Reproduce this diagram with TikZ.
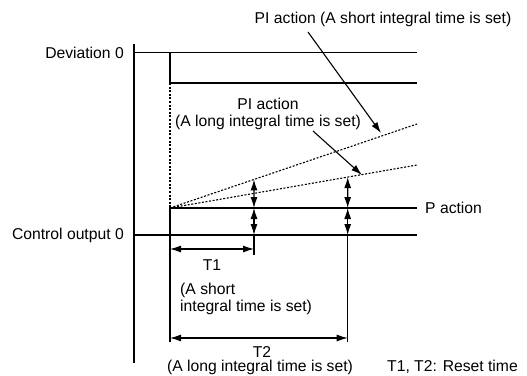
\documentclass[tikz,border=0pt]{standalone}
\usepackage{fontspec}
\setmainfont{Liberation Sans}
\usetikzlibrary{arrows.meta,calc}

\begin{document}
\begin{tikzpicture}[x=1pt,y=-1pt,
		%Option for nice arrows%
		>={Latex[length=11pt,width=7pt]},%
		thin line/.style={line width=1.1pt},%
		thick line/.style={line width=2.6pt},%
		dot line/.style={line width=1.1pt,dash pattern=on 2pt off 1.6pt},%
		lbl/.style={inner sep=0pt,font=\fontsize{15.7}{17}\selectfont}%
		]
		%% some definitions
		\def\xs{170}    % step time
		\def\xe{417}    % right end of lines
		\def\xa{254}    % end of T1
		\def\xb{347.7}  % end of T2
		\def\yd{52.5}   % deviation 0
		\def\yo{235}    % control output 0
		\def\yp{208}    % P action level
		%
		\useasboundingbox (0,0) rectangle (527,375);
		%
		\coordinate (ax top) at (134,44);
		\coordinate (ax bot) at (134,363);
		\coordinate (dev l) at (134,\yd);
		\coordinate (dev r) at (\xe,\yd);
		\coordinate (co l) at (134,\yo);
		\coordinate (co r) at (\xe,\yo);
		\coordinate (step top) at (\xs,\yd);
		\coordinate (step bot) at (\xs,83);
		\coordinate (step r) at (\xe,83);
		\coordinate (P0) at (\xs,\yp);
		\coordinate (P1) at (\xe,\yp);
		\coordinate (P base) at (\xs,\yo);
		\coordinate (short end) at (\xe,124);
		\coordinate (long end) at (\xe,165);
		%
		\coordinate (short a) at ($(P0)!{(\xa-\xs)/(\xe-\xs)}!(short end)$);
		\coordinate (long b) at ($(P0)!{(\xb-\xs)/(\xe-\xs)}!(long end)$);
		%
	%% axes and zero lines
	\draw[thin line] (ax top) -- (ax bot);
	\draw[thin line] (dev l) -- (dev r);
	\draw[thin line] (co l) -- (co r);
	
	%% deviation step
	\draw[thick line] (step top) -- (step bot) -- (step r);
	\draw[dot line] (step bot) -- (P0);
	
	%% P action and PI ramps
	\draw[thick line] (P base) -- (P0) -- (P1);
	\draw[dot line] (P0) -- (short end);
	\draw[dot line] (P0) -- (long end);
	
	%% T1
	\draw[thin line] (\xa,\yo) -- (\xa,255);
	\draw[thin line,<->] (short a) -- (\xa,\yp);
	\draw[thin line,<->] (\xa,\yp) -- (\xa,\yo);
	\draw[thin line,<->] (\xs,249) -- (\xa,249);
	
	%% T2
	\draw[thin line] (P base) -- (\xs,342);
	\draw[thin line] (\xb,\yo) -- (\xb,342);
	\draw[thin line,<->] (long b) -- (\xb,\yp);
	\draw[thin line,<->] (\xb,\yp) -- (\xb,\yo);
	\draw[thin line,<->] (\xs,338) -- (\xb,338);
	
	%% labels
	\node[lbl,anchor=east] (dev) at (124,\yd) {Deviation 0};
	\node[lbl,anchor=east] (cout) at (124,\yo) {Control output 0};
	\node[lbl,anchor=west] (pact) at (425,\yp) {P action};
	\node[lbl] (pi short) at (383,19) {PI action (A short integral time is set)};
	\node[lbl,align=center] (pi long) at (268,114) {PI action\\(A long integral time is set)};
	\node[lbl] (t1) at (212,265) {T1};
	\node[lbl,align=left,anchor=west] (t1 note) at (180,299) {(A short\\integral time is set)};
	\node[lbl] (t2) at (262,352) {T2};
	\node[lbl] (t2 note) at (260,367) {(A long integral time is set)};
	\node[lbl,anchor=west] (reset) at (387,367) {T1, T2: Reset time};
	
	%% callouts
	\coordinate (c1 s) at (308,32);
	\coordinate (c1 e) at (381,133);
	\coordinate (c2 s) at (313,131);
	\coordinate (c2 e) at (362,175);
	\draw[thin line,->] (c1 s) -- (c1 e);
	\draw[thin line,->] (c2 s) -- (c2 e);

\end{tikzpicture}
\end{document}
